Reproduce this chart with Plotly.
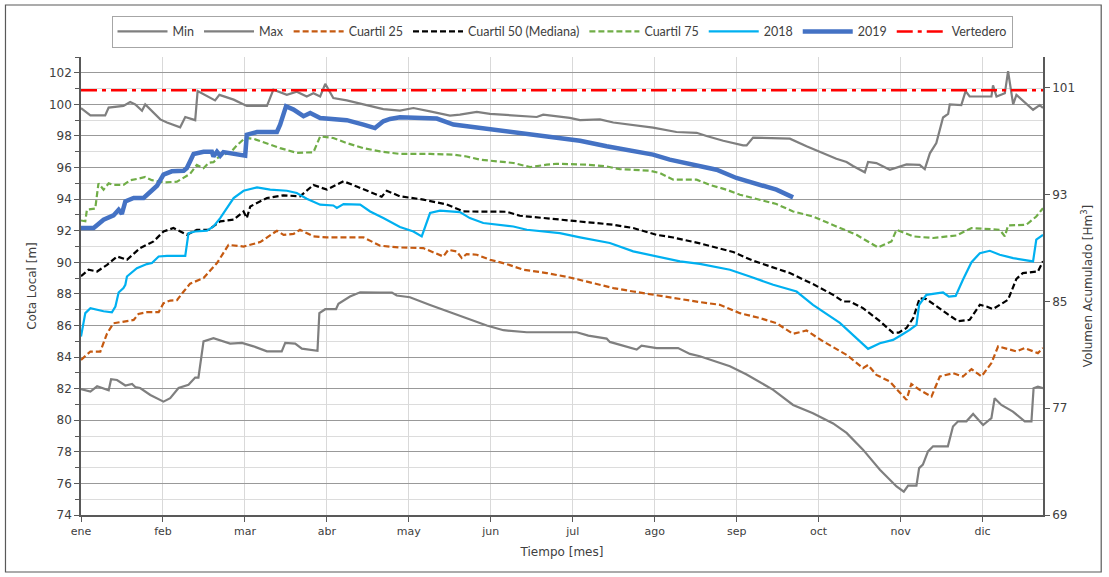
import plotly.graph_objects as go

# Day-of-year positions (0 = 1 Jan) and water levels [m] for each series
min_dias = [0, 3.5, 6, 10.3, 11.2, 13.4, 16.5, 19, 20.2, 22, 25.8, 30.7, 33.2, 36.3, 40, 42.5, 43.7,
            45.6, 49.3, 55.5, 59.9, 64.2, 69.2, 74.7, 76, 79.7, 82.2, 86.5, 88, 88.7, 90.9, 94.9,
            95.8, 100.1, 103.9, 111.3, 115.7, 117.5, 122.4, 129.9, 137.3, 144.7, 151, 157.2, 165.9,
            184.5, 188.8, 195.6, 196.8, 206.8, 208.6, 214.2, 222.2, 226.6, 230.3, 241.5, 247.7,
            257.6, 265, 272.4, 279.9, 284.9, 291, 297.3, 303.5, 306.2, 307.8, 310.9, 311.9, 313.3,
            315.2, 317.1, 322.6, 324.5, 326.4, 329.5, 332, 335.7, 338.8, 340, 342.5, 346.8, 351.2,
            353.7, 354.5, 356.1, 358]
min_cota = [81.97, 81.82, 82.15, 81.9, 82.6, 82.55, 82.2, 82.3, 82.1, 82.04, 81.6, 81.18, 81.4, 82.04,
            82.25, 82.7, 82.7, 84.99, 85.2, 84.85, 84.9, 84.68, 84.36, 84.36, 84.9, 84.85, 84.53,
            84.4, 84.4, 86.78, 87.03, 87.03, 87.37, 87.83, 88.1, 88.09, 88.09, 87.9, 87.79, 87.3,
            86.84, 86.35, 86.0, 85.7, 85.57, 85.57, 85.36, 85.17, 84.96, 84.47, 84.72, 84.57, 84.57,
            84.2, 84.05, 83.42, 82.9, 81.92, 80.97, 80.44, 79.8, 79.2, 78.14, 76.87, 75.81, 75.48,
            75.86, 75.86, 76.97, 77.19, 78.03, 78.35, 78.35, 79.6, 79.93, 79.93, 80.4, 79.7, 80.13,
            81.39, 80.97, 80.55, 79.93, 79.93, 82.03, 82.13, 82.03]

max_dias = [0, 3.5, 9, 10.3, 15.8, 18.3, 20.2, 22.7, 23.9, 26.4, 29.5, 32, 36.9, 38.8, 42.5, 43.4,
            46.9, 49.9, 51.5, 56.8, 61.7, 69.2, 71.6, 76.6, 80.3, 84, 86.5, 89, 90.9, 93.9, 98.9,
            106.4, 112.5, 118.7, 123.7, 129.9, 137.3, 141, 147.3, 152.2, 160.9, 169.6, 172, 181.9,
            185.7, 193.1, 198.1, 205.5, 212.9, 221.6, 229.1, 232.8, 239, 246.4, 247.7, 250.1, 263.8,
            270, 274.9, 281.1, 284.9, 287.3, 291.7, 292.9, 296, 301, 307.2, 312.1, 314, 315.9, 318.3,
            320.8, 322.7, 323.3, 327.6, 329.2, 330.7, 338.8, 339.4, 340.7, 343.8, 345, 346.9, 348.1,
            354.3, 356.8, 358]
max_cota = [99.77, 99.3, 99.3, 99.8, 99.9, 100.15, 100.0, 99.6, 100.0, 99.56, 99.05, 98.85, 98.55,
            99.2, 99.0, 100.84, 100.5, 100.25, 100.6, 100.3, 99.9, 99.9, 100.93, 100.6, 100.8, 100.5,
            100.7, 100.5, 101.3, 100.4, 100.25, 99.97, 99.7, 99.6, 99.77, 99.56, 99.29, 99.35, 99.52,
            99.4, 99.3, 99.2, 99.35, 99.14, 99.0, 99.05, 98.85, 98.7, 98.53, 98.25, 98.2, 98.0, 97.7,
            97.4, 97.4, 97.9, 97.83, 97.35, 97.0, 96.56, 96.35, 96.1, 95.7, 96.35, 96.28, 95.86, 96.2,
            96.17, 95.9, 96.9, 97.55, 99.17, 99.4, 100.0, 99.95, 100.84, 100.5, 100.5, 101.2, 100.5,
            100.7, 102.1, 100.0, 100.6, 99.66, 99.95, 99.77]

q25_dias = [0, 3.5, 7.2, 9.7, 12.1, 15.8, 19.6, 21.4, 24.5, 28.9, 30.7, 33.2, 35.7, 38.2, 40.6, 45.6,
            50.6, 54.9, 60.5, 66.7, 72.9, 75.4, 79.1, 81.5, 86.5, 91.5, 105.1, 111.3, 118.7, 127.4,
            132.4, 134.8, 136.7, 139.8, 141.7, 143.5, 147.3, 152.2, 158.4, 164.6, 173.3, 181.9, 190.6,
            198.1, 205.5, 214.2, 222.9, 230.3, 237.7, 245.2, 252.6, 258.8, 265, 270, 276.2, 284.9,
            291, 292.9, 296, 301, 307.2, 309, 312.1, 316.5, 319.6, 324.5, 328.2, 331.4, 335.1, 338.8,
            341.3, 348.1, 351.2, 356.1, 358]
q25_cota = [83.82, 84.35, 84.35, 85.5, 86.14, 86.24, 86.35, 86.73, 86.84, 86.84, 87.41, 87.58, 87.6,
            88.15, 88.65, 89.0, 89.95, 91.1, 91.0, 91.28, 92.0, 91.74, 91.8, 92.06, 91.64, 91.58,
            91.58, 91.05, 90.94, 90.9, 90.52, 90.37, 90.79, 90.69, 90.27, 90.52, 90.48, 90.16, 89.89,
            89.53, 89.32, 89.04, 88.68, 88.37, 88.15, 87.9, 87.68, 87.48, 87.31, 86.78, 86.47, 86.15,
            85.47, 85.68, 84.99, 84.14, 83.3, 83.5, 82.87, 82.45, 81.29, 82.3, 81.92, 81.5, 82.77,
            82.98, 82.77, 83.24, 82.77, 83.62, 84.68, 84.36, 84.57, 84.25, 84.57]

q50_dias = [0, 2.8, 6, 9.7, 13.4, 17.1, 22, 27, 30.7, 34.4, 39.4, 43.1, 47.5, 51.8, 56.8, 60.5, 61.7,
            63, 69.2, 75.3, 81.5, 86.5, 91.5, 97.7, 102.6, 108.8, 111.9, 113.8, 118.7, 127.4, 136.1,
            142.3, 152.2, 158.4, 163.3, 172, 181.9, 189.4, 198.1, 205.5, 214.2, 220.4, 222.9, 230.3,
            242.7, 250.1, 263.8, 272.4, 279.9, 283.6, 286.1, 291, 297.3, 302.2, 304.3, 307.2, 309.7,
            312.1, 314.6, 318.3, 322, 326.4, 330.7, 334.5, 337, 339.4, 341.9, 345, 348.1, 350.5,
            356.1, 358]
q50_cota = [89.12, 89.53, 89.42, 89.84, 90.37, 90.16, 90.9, 91.32, 91.95, 92.17, 91.74, 92.06, 92.06,
            92.59, 92.7, 93.22, 92.8, 93.54, 94.07, 94.24, 94.18, 94.9, 94.6, 95.13, 94.8, 94.4,
            94.15, 94.53, 94.18, 93.97, 93.66, 93.22, 93.18, 93.2, 92.95, 92.8, 92.63, 92.53, 92.38,
            92.17, 91.74, 91.57, 91.47, 91.2, 90.65, 90.1, 89.32, 88.62, 87.94, 87.52, 87.52, 87.1,
            86.27, 85.53, 85.55, 85.84, 86.47, 87.73, 87.67, 87.2, 86.78, 86.27, 86.36, 87.31, 87.2,
            87.04, 87.31, 87.63, 88.95, 89.32, 89.42, 90.06]

q75_dias = [0, 1.6, 2.2, 5.3, 6.5, 8.4, 10.3, 12.1, 15.8, 18.3, 21.4, 23.9, 26.4, 30.7, 35.7, 40.6,
            43.1, 45.6, 47.5, 49.3, 51.8, 55.5, 58, 61.1, 64.2, 69.2, 74.1, 80.3, 86.5, 89, 93.9,
            98.9, 105.1, 111.3, 118.7, 129.9, 138.6, 143.5, 148.5, 160.9, 167.1, 173.3, 177, 188.2,
            195.6, 200.5, 205.5, 211.7, 215.4, 220.4, 229.1, 234, 240.2, 245.2, 250.1, 258.8, 265,
            272.4, 281.1, 288.6, 296.6, 301.6, 303.5, 309.7, 317.1, 325.8, 331.4, 341.9, 343.8, 345,
            351.8, 355.5, 358]
q75_cota = [92.65, 92.6, 93.33, 93.4, 95.0, 94.6, 95.0, 94.9, 94.9, 95.2, 95.3, 95.4, 95.2, 95.06,
            95.1, 95.6, 96.17, 95.96, 96.3, 96.34, 96.76, 96.93, 97.4, 97.88, 97.82, 97.5, 97.23,
            96.93, 96.97, 97.97, 97.87, 97.55, 97.23, 97.02, 96.86, 96.86, 96.82, 96.7, 96.5, 96.29,
            96.03, 96.18, 96.24, 96.18, 96.07, 95.9, 95.86, 95.8, 95.65, 95.23, 95.23, 94.9, 94.6,
            94.28, 94.07, 93.69, 93.22, 92.9, 92.27, 91.74, 90.94, 91.32, 92.06, 91.64, 91.54, 91.7,
            92.17, 92.06, 91.64, 92.33, 92.38, 92.9, 93.43]

a2018_dias = [0, 1.6, 3.5, 8.4, 11.5, 12.8, 14, 15.8, 16.5, 17.1, 20.8, 24.5, 26.4, 28.9, 32, 38.8,
              40, 42.5, 46.9, 49.3, 51.8, 54.3, 56.8, 60.5, 65.5, 70.4, 76.6, 80.3, 84, 89, 93.9,
              95.2, 97.7, 103.9, 107.6, 112.5, 118.7, 123.7, 126.8, 129.9, 133.6, 141, 144.7, 149.7,
              160.9, 165.9, 178.2, 185.7, 196.8, 205.5, 212.9, 222.9, 230.3, 241.5, 248.9, 257.6,
              266.3, 272.4, 282.4, 292.9, 297.3, 302.2, 305.3, 308.4, 310.9, 311.9, 314.6, 320.8,
              323, 325.5, 328.2, 331.4, 334.5, 338.2, 341.9, 346.9, 354.3, 355.5, 358]
a2018_cota = [85.3, 86.78, 87.1, 86.9, 86.83, 87.2, 88.09, 88.37, 88.58, 89.1, 89.63, 89.89, 89.95,
              90.37, 90.41, 90.41, 91.85, 91.95, 92.0, 92.27, 92.8, 93.4, 94.07, 94.53, 94.74, 94.6,
              94.53, 94.39, 94.03, 93.65, 93.6, 93.44, 93.69, 93.65, 93.22, 92.8, 92.24, 91.95,
              91.64, 93.12, 93.27, 93.18, 92.8, 92.49, 92.27, 92.06, 91.85, 91.58, 91.22, 90.69,
              90.42, 90.06, 89.9, 89.53, 89.1, 88.58, 88.15, 87.31, 86.16, 84.52, 84.88, 85.09, 85.4,
              85.72, 86.04, 87.31, 87.94, 88.09, 87.83, 87.87, 88.9, 90.01, 90.58, 90.73, 90.48,
              90.27, 90.06, 91.43, 91.74]

a2019_dias = [0, 2.2, 4.7, 8.4, 12.1, 14, 15.2, 16.5, 19.6, 23.3, 24.5, 28.3, 30.7, 33.8, 38.2, 39.4,
              41.9, 45.6, 48.7, 49.3, 50.6, 51.8, 53, 58, 61.1, 61.7, 65.5, 72.9, 74.1, 76.3, 79.1,
              82.8, 85.3, 89, 93.9, 98.9, 105.1, 109.4, 112.5, 115, 118.7, 132.4, 138.6, 148.5, 160.9,
              173.3, 185.7, 195.6, 205.5, 212.9, 219.1, 222.9, 230.3, 236.5, 243.9, 250.1, 258.8, 265]
a2019_cota = [92.17, 92.2, 92.17, 92.7, 92.97, 93.33, 93.06, 93.86, 94.07, 94.07, 94.28, 94.85, 95.55,
              95.76, 95.8, 95.97, 96.86, 97.0, 97.0, 96.7, 97.0, 96.75, 96.98, 96.86, 96.75, 98.08,
              98.25, 98.25, 98.72, 99.88, 99.67, 99.25, 99.46, 99.14, 99.1, 99.0, 98.72, 98.5, 98.93,
              99.08, 99.18, 99.1, 98.72, 98.5, 98.2, 97.99, 97.7, 97.35, 97.03, 96.82, 96.5, 96.35,
              96.07, 95.86, 95.34, 95.06, 94.6, 94.11]

vertedero_dias = [0, 358]
vertedero_cota = [100.9, 100.9]

# Axis ticks
meses = ["ene", "feb", "mar", "abr", "may", "jun", "jul", "ago", "sep", "oct", "nov", "dic"]
dias_mes = [i * 30.5 for i in range(12)]
volumen_ticks = [69, 77, 85, 93, 101]

FONT = "DejaVu Sans"
TXT = "#404040"

fig = go.Figure()

series = [
    ("Min", min_dias, min_cota, dict(color="#7f7f7f", width=2.2)),
    ("Max", max_dias, max_cota, dict(color="#7f7f7f", width=2.2)),
    ("Cuartil 25", q25_dias, q25_cota, dict(color="#c55a11", width=2.2, dash="6px,3px")),
    ("Cuartil 50 (Mediana)", q50_dias, q50_cota, dict(color="#000000", width=2.2, dash="6px,3px")),
    ("Cuartil 75", q75_dias, q75_cota, dict(color="#70ad47", width=2.2, dash="6px,3px")),
    ("2018", a2018_dias, a2018_cota, dict(color="#00b0f0", width=2.2)),
    ("2019", a2019_dias, a2019_cota, dict(color="#4472c4", width=4.5)),
    ("Vertedero", vertedero_dias, vertedero_cota, dict(color="#ff0000", width=2.5, dash="16px,5px,4px,5px")),
]
for name, xs, ys, line in series:
    fig.add_trace(go.Scatter(x=xs, y=ys, name=name, mode="lines", line=line))

# Secondary axis carrier (volume scale)
fig.add_trace(go.Scatter(x=[0], y=[69], yaxis="y2", mode="markers",
                         marker=dict(opacity=0), showlegend=False, hoverinfo="skip"))

fig.update_layout(
    width=1109, height=577,
    margin=dict(l=81, r=66, t=57, b=62),
    paper_bgcolor="white", plot_bgcolor="white",
    font=dict(family=FONT, size=11, color=TXT),
    showlegend=True,
    legend=dict(orientation="h", x=0.5, xanchor="center", y=1.09, yanchor="top",
                bordercolor="#a6a6a6", borderwidth=1, bgcolor="white",
                font=dict(family="Lato", size=12.5, color=TXT), itemwidth=50,
                tracegroupgap=0),
    xaxis=dict(range=[0, 358], tickvals=dias_mes, ticktext=meses,
               showgrid=True, gridcolor="#d9d9d9", gridwidth=1,
               showline=True, linecolor="#595959", linewidth=1.5,
               ticks="outside", ticklen=5, tickcolor="#595959",
               zeroline=False, tickfont=dict(size=11, color=TXT),
               title=dict(text="Tiempo [mes]", font=dict(size=12, color=TXT), standoff=11)),
    yaxis=dict(range=[74, 103], dtick=2, tick0=74,
               showgrid=True, gridcolor="#999999", gridwidth=1,
               showline=True, linecolor="#595959", linewidth=1.5,
               ticks="outside", ticklen=5, tickcolor="#595959",
               minor=dict(dtick=1, tick0=74, ticks="outside", ticklen=4, tickcolor="#595959",
                          showgrid=True, gridcolor="#dcdcdc", gridwidth=1),
               zeroline=False, tickfont=dict(size=12, color=TXT),
               title=dict(text="Cota Local [m]", font=dict(size=12, color=TXT), standoff=10)),
    yaxis2=dict(range=[69, 103.3], overlaying="y", side="right", tickvals=volumen_ticks,
                showgrid=False, showline=True, linecolor="#595959", linewidth=1.5,
                ticks="outside", ticklen=5, tickcolor="#595959", zeroline=False,
                tickfont=dict(size=12, color=TXT),
                title=dict(text="Volumen Acumulado [Hm<sup>3</sup>]",
                           font=dict(size=12, color=TXT), standoff=10)),
    shapes=[dict(type="rect", xref="paper", yref="paper",
                 x0=-0.0785, x1=1.0605, y0=-0.1245, y1=1.1135,
                 line=dict(color="#595959", width=1.2), fillcolor="rgba(0,0,0,0)", layer="below")],
)

fig.write_html("out.html")
